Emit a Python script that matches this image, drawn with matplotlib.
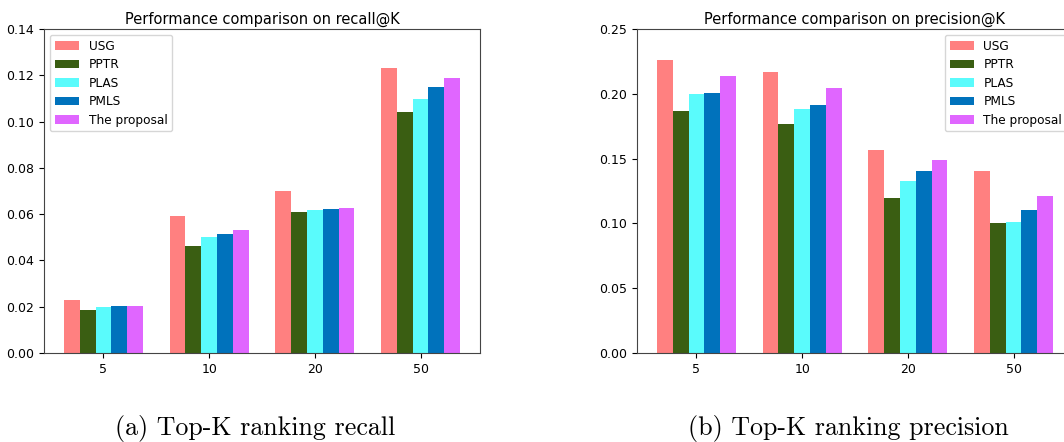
import numpy as np
import matplotlib
matplotlib.use("Agg")
import matplotlib.pyplot as plt

# ----------------------- Datos ------------------------
k_labels = ["5", "10", "20", "50"]
metodos = ["USG", "PPTR", "PLAS", "PMLS", "The proposal"]
colores = ["#FF8080", "#3A5E12", "#5AFBFC", "#0072BC", "#E066FF"]

recall = {
    "USG": [0.0228, 0.0590, 0.0698, 0.1232],
    "PPTR": [0.0185, 0.0461, 0.0608, 0.1042],
    "PLAS": [0.0199, 0.0500, 0.0617, 0.1098],
    "PMLS": [0.0202, 0.0513, 0.0621, 0.1150],
    "The proposal": [0.0202, 0.0530, 0.0626, 0.1189],
}

precision = {
    "USG": [0.2261, 0.2168, 0.1566, 0.1404],
    "PPTR": [0.1867, 0.1767, 0.1196, 0.1003],
    "PLAS": [0.1998, 0.1883, 0.1327, 0.1011],
    "PMLS": [0.2006, 0.1914, 0.1404, 0.1103],
    "The proposal": [0.2137, 0.2045, 0.1489, 0.1211],
}

# ----------------------- Figura ------------------------
fig = plt.figure(figsize=(10.64, 4.42), dpi=100)
ax1 = fig.add_axes([44 / 1064, 89 / 442, 436 / 1064, 324 / 442])
ax2 = fig.add_axes([637 / 1064, 89 / 442, 436 / 1064, 324 / 442])

x = np.arange(len(k_labels))
ancho = 0.15


def dibujar(ax, datos, titulo, ymax, paso, loc):
    for i, m in enumerate(metodos):
        ax.bar(x + (i - 2) * ancho, datos[m], ancho, color=colores[i], label=m)
    ax.set_xticks(x)
    ax.set_xticklabels(k_labels)
    ax.set_ylim(0, ymax)
    ax.set_yticks(np.arange(0, ymax + paso / 2, paso))
    ax.yaxis.set_major_formatter(matplotlib.ticker.FormatStrFormatter("%.2f"))
    ax.set_title(titulo, fontsize=10.5, pad=4)
    ax.tick_params(labelsize=9)
    for s in ax.spines.values():
        s.set_color("#444444")
    ax.legend(loc=loc, fontsize=8.7, handlelength=2.0, labelspacing=0.45)


dibujar(ax1, recall, "Performance comparison on recall@K", 0.14, 0.02, "upper left")
dibujar(ax2, precision, "Performance comparison on precision@K", 0.25, 0.05, "upper right")

fig.text(255 / 1064, 1 - 428 / 442, "(a) Top-K ranking recall", family="cmr10",
         fontsize=18.7, ha="center", va="center")
fig.text(848 / 1064, 1 - 428 / 442, "(b) Top-K ranking precision", family="cmr10",
         fontsize=18.7, ha="center", va="center")

fig.savefig("out.png", dpi=100)
